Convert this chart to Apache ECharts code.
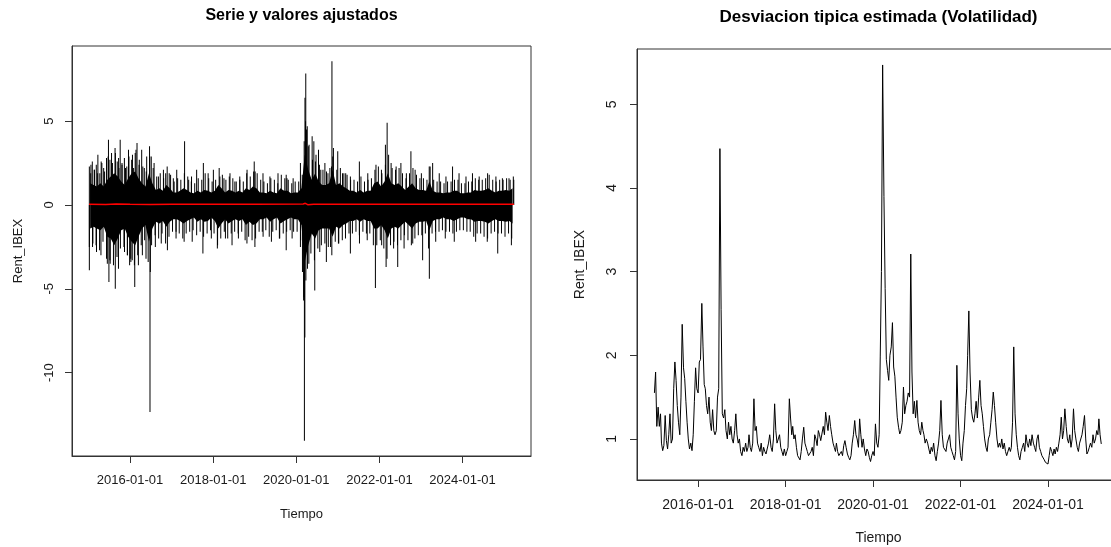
<!DOCTYPE html>
<html>
<head>
<meta charset="utf-8">
<script src="https://cdn.jsdelivr.net/npm/echarts@6/dist/echarts.min.js"></script>
<style>
html, body { margin: 0; padding: 0; background: #fff; overflow: hidden; }
#chart { width: 1111px; height: 547px; }
</style>
</head>
<body>
<div id="chart"></div>
<script>
// first and last day of the return series
var startDate = '2015-01-05';
var endDate = '2025-03-28';

// dense part of the daily returns, one upper / lower value per month (2015-01 .. 2025-03)
var coreHi = [
    1.3, 1.2, 1.1, 1.3, 1.1, 1.5, 1.7, 1.9, 1.7, 1.4, 1.2, 1.6,
    1.9, 2.0, 1.6, 1.3, 1.1, 1.9, 1.3, 0.9, 1.0, 0.85, 1.2, 1.0,
    0.75, 0.75, 0.85, 1.0, 0.9, 0.75, 0.7, 0.85, 0.75, 0.9, 0.85, 0.75,
    0.85, 1.2, 1.0, 0.75, 0.9, 0.85, 0.75, 0.85, 0.75, 1.0, 0.9, 1.1,
    1.0, 0.75, 0.75, 0.7, 0.85, 0.75, 0.7, 1.0, 0.85, 0.85, 0.7, 0.75,
    0.75, 1.0, 3.0, 2.1, 1.5, 1.9, 1.4, 1.2, 1.2, 1.3, 2.1, 1.2,
    1.3, 1.1, 1.0, 0.85, 0.85, 0.75, 0.9, 0.75, 0.85, 0.85, 1.3, 1.4,
    1.1, 1.4, 1.9, 1.3, 1.2, 1.3, 1.1, 0.9, 1.1, 1.3, 1.0, 0.9,
    0.9, 0.85, 1.4, 0.85, 0.75, 0.75, 0.7, 0.75, 0.75, 0.85, 0.85, 0.7,
    0.7, 0.75, 0.75, 0.9, 0.85, 0.85, 0.9, 1.0, 0.85, 0.75, 0.85, 0.85,
    0.9, 0.85, 1.0
];
var coreLo = [
    -1.4, -1.3, -1.4, -1.5, -1.3, -1.9, -2.0, -2.4, -2.0, -1.5, -1.4, -1.9,
    -2.2, -2.4, -1.9, -1.4, -1.2, -2.2, -1.4, -1.0, -1.1, -0.95, -1.3, -1.0,
    -0.85, -0.85, -0.95, -1.1, -0.95, -0.85, -0.75, -1.0, -0.85, -1.0, -0.95, -0.75,
    -0.95, -1.4, -1.1, -0.85, -1.1, -0.95, -0.85, -0.95, -0.85, -1.2, -1.0, -1.2,
    -1.1, -0.85, -0.85, -0.75, -1.0, -0.85, -0.75, -1.1, -0.95, -0.85, -0.75, -0.85,
    -0.85, -1.2, -3.4, -2.4, -1.7, -2.0, -1.5, -1.4, -1.4, -1.4, -1.9, -1.3,
    -1.4, -1.2, -1.1, -0.95, -0.95, -0.85, -1.0, -0.85, -0.95, -0.95, -1.4, -1.4,
    -1.2, -1.5, -2.0, -1.4, -1.3, -1.4, -1.2, -1.0, -1.2, -1.4, -1.1, -1.0,
    -1.0, -0.95, -1.5, -0.95, -0.85, -0.85, -0.75, -0.85, -0.85, -0.95, -0.85, -0.75,
    -0.75, -0.85, -0.85, -1.0, -0.95, -0.95, -1.0, -1.1, -0.95, -0.85, -0.95, -0.95,
    -1.0, -0.95, -1.1
];

// fringe of the band: one up day (day 22) and one down day (day 8) per month
var fringeHi = [
    2.4, 2.1, 1.9, 2.6, 2.0, 2.9, 3.1, 3.4, 2.8, 2.5, 2.2, 2.9,
    3.0, 3.3, 2.7, 2.3, 2.0, 2.9, 2.2, 1.7, 1.9, 1.6, 2.3, 1.8,
    1.4, 1.6, 1.5, 1.9, 1.7, 1.4, 1.3, 1.6, 1.5, 1.9, 1.6, 1.4,
    1.5, 2.2, 1.8, 1.5, 1.7, 1.6, 1.4, 1.5, 1.4, 1.9, 1.7, 2.0,
    1.9, 1.5, 1.4, 1.3, 1.6, 1.5, 1.3, 1.8, 1.6, 1.5, 1.3, 1.4,
    1.4, 1.8, 5.0, 3.6, 2.7, 3.0, 2.4, 2.1, 2.0, 2.2, 3.4, 2.1,
    2.2, 1.9, 1.8, 1.5, 1.5, 1.4, 1.7, 1.4, 1.5, 1.6, 2.1, 2.3,
    1.9, 2.4, 3.0, 2.2, 2.1, 2.2, 1.9, 1.6, 1.9, 2.2, 1.8, 1.6,
    1.6, 1.5, 2.3, 1.5, 1.4, 1.4, 1.3, 1.4, 1.4, 1.5, 1.5, 1.3,
    1.3, 1.4, 1.4, 1.6, 1.5, 1.5, 1.6, 1.8, 1.5, 1.4, 1.5, 1.5,
    1.6, 1.5, 1.7
];
var fringeLo = [
    -2.5, -2.3, -2.4, -2.7, -2.2, -3.2, -3.3, -3.6, -3.1, -2.6, -2.5, -3.0,
    -3.4, -3.6, -3.0, -2.4, -2.1, -3.4, -2.4, -1.8, -2.0, -1.7, -2.3, -1.9,
    -1.6, -1.6, -1.7, -2.0, -1.7, -1.6, -1.5, -1.8, -1.6, -1.9, -1.7, -1.5,
    -1.7, -2.4, -2.0, -1.6, -2.0, -1.7, -1.6, -1.7, -1.6, -2.1, -1.9, -2.1,
    -2.0, -1.6, -1.6, -1.5, -1.9, -1.6, -1.5, -2.0, -1.7, -1.6, -1.5, -1.6,
    -1.6, -2.1, -5.5, -3.8, -2.9, -3.3, -2.6, -2.4, -2.3, -2.5, -3.0, -2.2,
    -2.3, -2.1, -2.0, -1.7, -1.7, -1.6, -1.8, -1.6, -1.7, -1.7, -2.4, -2.4,
    -2.1, -2.6, -3.2, -2.4, -2.2, -2.4, -2.1, -1.8, -2.1, -2.4, -2.0, -1.8,
    -1.8, -1.7, -2.6, -1.7, -1.6, -1.6, -1.5, -1.6, -1.6, -1.7, -1.6, -1.5,
    -1.5, -1.6, -1.6, -1.9, -1.7, -1.7, -1.9, -2.0, -1.7, -1.6, -1.7, -1.7,
    -1.9, -1.7, -2.0
];

// single large daily returns sticking out of the band
var spikes = [
    ['2015-01-08', 2.3], ['2015-01-20', 1.9], ['2015-02-03', 2.6], ['2015-02-20', 2.1],
    ['2015-03-10', 2.4], ['2015-03-24', 3.0], ['2015-04-10', 1.9], ['2015-04-28', 2.5],
    ['2015-05-14', 2.2], ['2015-06-08', 2.8], ['2015-06-25', 3.9], ['2015-07-08', 2.7],
    ['2015-07-30', 2.5], ['2015-08-25', 3.1], ['2015-09-10', 2.6], ['2015-09-25', 2.2],
    ['2015-10-06', 3.9], ['2015-10-22', 2.4], ['2015-11-12', 2.8], ['2015-12-03', 2.3],
    ['2015-12-18', 3.3], ['2016-01-15', 2.7], ['2016-02-01', 2.2], ['2016-02-15', 3.1],
    ['2016-03-02', 3.7], ['2016-03-20', 2.4], ['2016-04-12', 3.3], ['2016-05-05', 2.2],
    ['2016-05-26', 2.9], ['2016-06-20', 3.5], ['2016-07-05', 2.9], ['2016-07-30', 2.5],
    ['2016-09-06', 1.7], ['2016-10-20', 2.1], ['2016-11-09', 1.9], ['2016-12-10', 1.9],
    ['2017-01-15', 1.6], ['2017-02-14', 2.1], ['2017-04-24', 3.8], ['2017-05-30', 1.5],
    ['2017-06-24', 1.7], ['2017-08-08', 2.1], ['2017-10-06', 2.5], ['2017-11-17', 1.9],
    ['2018-01-02', 2.1], ['2018-02-28', 1.7], ['2018-04-05', 1.6], ['2018-05-28', 1.9],
    ['2018-07-10', 1.4], ['2018-08-22', 1.7], ['2018-10-25', 2.1], ['2018-12-27', 2.6],
    ['2019-01-04', 2.0], ['2019-03-14', 1.9], ['2019-05-14', 1.7], ['2019-07-24', 1.9],
    ['2019-10-04', 1.8], ['2019-10-11', 1.6], ['2019-12-04', 1.6], ['2020-02-06', 2.5],
    ['2020-03-10', 3.8], ['2020-03-17', 6.4], ['2020-03-24', 7.85], ['2020-03-30', 4.5],
    ['2020-04-06', 4.7], ['2020-04-15', 3.5], ['2020-05-19', 4.1], ['2020-06-03', 3.8],
    ['2020-06-17', 2.6], ['2020-07-14', 3.3], ['2020-08-03', 2.1], ['2020-09-08', 2.5],
    ['2020-10-05', 1.9], ['2020-11-05', 2.3], ['2020-11-09', 8.58], ['2020-11-16', 2.9],
    ['2020-12-30', 3.2], ['2021-02-10', 1.9], ['2021-03-10', 1.9], ['2021-04-20', 1.7],
    ['2021-07-08', 2.6], ['2021-09-20', 1.9], ['2021-12-01', 2.4], ['2022-01-18', 2.1],
    ['2022-02-22', 3.6], ['2022-03-09', 4.9], ['2022-04-13', 2.5], ['2022-05-27', 2.3],
    ['2022-07-08', 2.5], ['2022-08-25', 1.9], ['2022-10-04', 3.2], ['2022-11-10', 2.1],
    ['2023-01-04', 1.9], ['2023-03-14', 2.3], ['2023-04-13', 2.5], ['2023-06-10', 1.9],
    ['2023-08-08', 1.7], ['2023-10-05', 2.3], ['2023-12-01', 1.9], ['2024-01-31', 1.7],
    ['2024-03-28', 1.9], ['2024-05-26', 1.7], ['2024-08-08', 1.9], ['2024-10-20', 1.7],
    ['2024-12-16', 1.6], ['2025-02-12', 1.6], ['2025-03-26', 1.5],

    ['2015-01-08', -3.9], ['2015-02-05', -2.5], ['2015-03-12', -2.8], ['2015-04-20', -3.0],
    ['2015-06-15', -3.5], ['2015-06-29', -4.6], ['2015-07-10', -3.5], ['2015-08-24', -5.0],
    ['2015-09-21', -3.8], ['2015-11-13', -2.8], ['2015-12-09', -3.0], ['2015-12-28', -3.6],
    ['2016-01-07', -3.2], ['2016-01-20', -3.3], ['2016-02-11', -4.9], ['2016-03-14', -3.6],
    ['2016-04-18', -3.0], ['2016-05-20', -3.2], ['2016-06-24', -12.35], ['2016-06-27', -4.0],
    ['2016-08-10', -2.5], ['2016-10-01', -2.3], ['2016-11-24', -2.7], ['2017-02-08', -2.0],
    ['2017-04-20', -2.2], ['2017-06-30', -2.2], ['2017-10-02', -2.9], ['2017-12-15', -2.0],
    ['2018-02-06', -2.6], ['2018-04-18', -2.0], ['2018-06-15', -2.4], ['2018-08-10', -2.0],
    ['2018-10-24', -2.3], ['2019-01-02', -2.5], ['2019-03-15', -1.9], ['2019-05-27', -2.2],
    ['2019-08-05', -2.0], ['2019-10-04', -2.7], ['2019-11-25', -2.0], ['2020-02-06', -2.5],
    ['2020-02-24', -4.0], ['2020-03-05', -5.7], ['2020-03-12', -14.07], ['2020-03-16', -7.9],
    ['2020-03-25', -4.5], ['2020-04-20', -3.5], ['2020-06-11', -5.1], ['2020-07-25', -2.8],
    ['2020-09-21', -3.4], ['2020-10-28', -2.5], ['2021-01-05', -2.3], ['2021-04-20', -2.9],
    ['2021-07-09', -2.3], ['2021-09-15', -2.1], ['2021-11-26', -4.96], ['2022-01-20', -2.4],
    ['2022-02-28', -3.7], ['2022-05-05', -2.6], ['2022-06-10', -3.7], ['2022-08-05', -2.6],
    ['2022-10-20', -2.3], ['2023-01-15', -3.3], ['2023-03-15', -4.4], ['2023-05-10', -2.2],
    ['2023-08-02', -2.0], ['2023-10-20', -2.2], ['2024-04-25', -2.2], ['2024-08-05', -2.2],
    ['2024-11-05', -2.9], ['2025-03-05', -2.4]
];

// fitted values (red line), close to zero
var fitted = [
    ['2015-01-05', 0.05], ['2015-06-01', 0.03], ['2015-09-01', 0.06], ['2016-01-01', 0.04],
    ['2016-07-01', 0.03], ['2017-01-01', 0.04], ['2018-01-01', 0.04], ['2019-01-01', 0.04],
    ['2020-03-01', 0.06], ['2020-03-20', 0.10], ['2020-04-10', 0.02], ['2020-06-01', 0.05],
    ['2021-01-01', 0.04], ['2022-01-01', 0.04], ['2023-01-01', 0.04], ['2024-01-01', 0.04],
    ['2025-03-28', 0.04]
];

// estimated volatility, three readings per month (days 1, 11, 21), 2015-01 .. 2025-03
var volValues = [
    1.55, 1.80, 1.15,  1.38, 1.15, 1.30,  0.95, 0.86, 0.92,  1.28, 0.98, 0.88,
    1.05, 1.30, 0.95,  1.00, 1.60, 1.92,  1.70, 1.40, 1.20,  1.05, 1.50, 2.37,
    1.85, 1.72, 1.45,  1.20, 1.00, 0.88,  0.95, 0.86, 1.05,  1.45, 1.85, 1.60,
    1.55, 1.92, 1.95,  2.62, 2.10, 1.65,  1.60, 1.40, 1.30,  1.50, 1.20, 1.10,
    1.35, 1.10, 1.05,  1.10, 1.50, 1.60,  4.47, 2.55, 1.30,  1.25, 1.35, 1.10,
    1.00, 1.20, 1.05,  1.15, 1.00, 0.95,  1.10, 1.30, 1.05,  0.95, 1.00, 0.85,
    0.80, 0.90, 0.85,  0.95, 0.85, 0.90,  1.05, 0.90, 0.85,  0.95, 1.48, 1.10,
    1.15, 0.95, 0.90,  0.85, 0.95, 0.80,  0.90, 0.85, 0.82,  0.80, 0.95, 1.05,
    0.90, 0.85, 1.00,  1.42, 1.10, 0.95,  0.95, 1.05, 0.90,  0.85, 0.80, 0.88,
    0.80, 0.85, 0.90,  1.48, 1.25, 1.05,  1.15, 1.00, 1.05,  0.90, 0.80, 0.78,
    0.75, 0.85, 1.00,  1.14, 0.95, 0.90,  0.85, 0.80, 0.78,  0.85, 0.90, 0.80,
    1.05, 1.00, 0.92,  1.10, 1.05, 0.98,  1.00, 1.15, 1.05,  1.32, 1.20, 1.10,
    1.28, 1.15, 1.05,  0.95, 0.90, 0.85,  0.95, 0.85, 0.80,  0.78, 0.85, 0.80,
    0.92, 0.98, 0.90,  0.82, 0.78, 0.75,  0.80, 0.95, 1.05,  1.22, 1.05, 1.00,
    0.90, 1.24, 1.05,  0.90, 1.00, 0.88,  0.80, 0.88, 0.85,  0.78, 0.73, 0.80,
    0.85, 0.80, 1.18,  0.95, 0.90, 1.05,  1.98, 3.00, 5.47,  3.90, 2.80, 1.95,
    1.82, 1.70, 2.00,  2.10, 2.39, 1.86,  1.75, 1.50, 1.26,  1.14, 1.06, 1.10,
    1.20, 1.62, 1.30,  1.40, 1.45, 1.55,  1.50, 3.21, 1.80,  1.30, 1.45, 1.25,
    1.46, 1.20, 1.10,  1.05, 1.20, 1.10,  1.05, 0.95, 1.00,  0.95, 0.88, 0.82,
    0.90, 0.85, 0.95,  0.80, 0.74, 0.85,  0.95, 1.10, 1.46,  1.05, 0.90, 0.88,
    0.85, 0.95, 1.00,  1.05, 0.90, 0.85,  0.80, 0.75, 0.85,  1.88, 1.30, 1.00,
    0.80, 0.74, 0.95,  1.10, 1.40, 1.60,  2.00, 2.53, 1.80,  1.35, 1.25, 1.20,
    1.30, 1.45, 1.25,  1.50, 1.70, 1.40,  1.30, 1.15, 1.00,  0.90, 0.85, 1.00,
    1.05, 1.20, 1.35,  1.56, 1.40, 1.20,  1.00, 0.90, 0.95,  0.90, 1.00, 0.88,
    0.95, 0.85, 0.80,  0.82, 0.90, 0.85,  0.90, 1.20, 2.10,  1.30, 1.05, 0.90,
    0.80, 0.75, 0.85,  0.90, 0.95, 0.85,  1.05, 0.95, 0.90,  1.00, 0.92, 1.05,
    0.95, 0.90, 0.85,  1.00, 1.05, 0.90,  0.85, 0.80, 0.78,  0.75, 0.72, 0.70,
    0.70, 0.80, 0.90,  0.85, 0.80, 0.88,  0.82, 0.90, 0.85,  0.95, 1.05, 1.26,
    1.00, 1.10, 1.36,  1.15, 1.00, 0.95,  1.05, 0.90, 1.00,  1.36, 1.10, 1.00,
    0.90, 0.85, 0.95,  0.95, 1.05, 1.15,  1.28, 1.00, 0.82,  0.85, 0.90, 0.95,
    0.90, 1.05, 0.95,  1.00, 1.10, 1.05,  1.24, 1.05, 0.94
];

var dateTicks = ['2016-01-01', '2018-01-01', '2020-01-01', '2022-01-01', '2024-01-01'];
var retTicks = [-10, -5, 0, 5];
var volTicks = [1, 2, 3, 4, 5];

function toTime(s) {
    var p = s.split('-');
    return new Date(+p[0], +p[1] - 1, +p[2]).getTime();
}
function pad(n) { return n < 10 ? '0' + n : '' + n; }
function fmtDate(v) {
    var d = new Date(v);
    return d.getFullYear() + '-' + pad(d.getMonth() + 1) + '-' + pad(d.getDate());
}
function monthDate(i, day) {
    return new Date(2015 + Math.floor(i / 12), i % 12, day).getTime();
}

var coreUp = coreHi.map(function (v, i) { return [monthDate(i, 15), v]; });
var coreDown = coreLo.map(function (v, i) { return [monthDate(i, 15), v]; });
var barData = spikes.map(function (d) { return [toTime(d[0]), d[1]]; })
    .concat(fringeHi.map(function (v, i) { return [monthDate(i, 22), v]; }))
    .concat(fringeLo.map(function (v, i) { return [monthDate(i, 8), v]; }));
var fittedData = fitted.map(function (d) { return [toTime(d[0]), d[1]]; });
var volData = volValues.map(function (v, i) {
    return [monthDate(Math.floor(i / 3), [1, 11, 21][i % 3]), v];
});

// R style ranges: data range widened by 4% on each side
function widen(lo, hi) {
    var r = hi - lo;
    return [lo - 0.04 * r, hi + 0.04 * r];
}
var tRange = widen(toTime(startDate), toTime(endDate));
var retVals = spikes.map(function (d) { return d[1]; });
var retRange = widen(Math.min.apply(null, retVals), Math.max.apply(null, retVals));
var volRange = widen(Math.min.apply(null, volValues), Math.max.apply(null, volValues));
var tickTimes = dateTicks.map(toTime);

var font = 'Liberation Sans, Arial, sans-serif';
var ink = '#1a1a1a';

// dates are plain timestamps on a value axis so the ticks can be placed by hand
function xAxisFor(gridIndex, size, margin, nameGap) {
    return {
        type: 'value', gridIndex: gridIndex,
        min: tRange[0], max: tRange[1],
        name: 'Tiempo', nameLocation: 'middle', nameGap: nameGap,
        nameTextStyle: { color: ink, fontSize: size, fontFamily: font },
        axisLine: { show: true, onZero: false, lineStyle: { color: '#333', width: 1 } },
        axisTick: { show: true, length: 7, customValues: tickTimes, lineStyle: { color: '#333' } },
        axisLabel: {
            customValues: tickTimes, formatter: fmtDate, margin: margin,
            color: ink, fontSize: size, fontFamily: font
        },
        splitLine: { show: false }
    };
}
function yAxisFor(gridIndex, range, ticks, size, margin, nameGap) {
    return {
        type: 'value', gridIndex: gridIndex,
        min: range[0], max: range[1],
        name: 'Rent_IBEX', nameLocation: 'middle', nameGap: nameGap,
        nameTextStyle: { color: ink, fontSize: size, fontFamily: font },
        axisLine: { show: true, onZero: false, lineStyle: { color: '#333', width: 1 } },
        axisTick: { show: true, length: 7, customValues: ticks, lineStyle: { color: '#333' } },
        axisLabel: {
            customValues: ticks, rotate: 90, margin: margin,
            color: ink, fontSize: size, fontFamily: font
        },
        splitLine: { show: false }
    };
}

var chart = echarts.init(document.getElementById('chart'));
chart.setOption({
    backgroundColor: '#fff',
    animation: false,
    title: [{
        text: 'Serie y valores ajustados', left: 301.5, top: 8, textAlign: 'center', padding: 0,
        textStyle: { fontSize: 16, fontWeight: 'bold', color: '#000', fontFamily: font }
    }, {
        text: 'Desviacion tipica estimada (Volatilidad)', left: 878.5, top: 9, textAlign: 'center', padding: 0,
        textStyle: { fontSize: 17, fontWeight: 'bold', color: '#000', fontFamily: font }
    }],
    grid: [
        { left: 72, top: 46, width: 459, height: 410, outerBoundsMode: 'none',
          show: true, borderColor: '#333', borderWidth: 1 },
        { left: 637, top: 49, width: 483, height: 431, outerBoundsMode: 'none',
          show: true, borderColor: '#333', borderWidth: 1 }
    ],
    xAxis: [xAxisFor(0, 13, 18, 52), xAxisFor(1, 14, 18, 51)],
    yAxis: [yAxisFor(0, retRange, retTicks, 13, 16, 47), yAxisFor(1, volRange, volTicks, 14, 18, 50)],
    series: [{
        type: 'line', xAxisIndex: 0, yAxisIndex: 0, data: coreUp,
        symbol: 'none', lineStyle: { width: 0 },
        areaStyle: { color: '#000', opacity: 1 }
    }, {
        type: 'line', xAxisIndex: 0, yAxisIndex: 0, data: coreDown,
        symbol: 'none', lineStyle: { width: 0 },
        areaStyle: { color: '#000', opacity: 1 }
    }, {
        type: 'bar', xAxisIndex: 0, yAxisIndex: 0, data: barData,
        barWidth: 1, itemStyle: { color: '#000' }
    }, {
        type: 'line', xAxisIndex: 0, yAxisIndex: 0, data: fittedData,
        symbol: 'none', lineStyle: { color: '#ff0000', width: 1.5 }, z: 5
    }, {
        type: 'line', xAxisIndex: 1, yAxisIndex: 1, data: volData,
        symbol: 'none', lineStyle: { color: '#000', width: 1 }
    }]
});
</script>
</body>
</html>
